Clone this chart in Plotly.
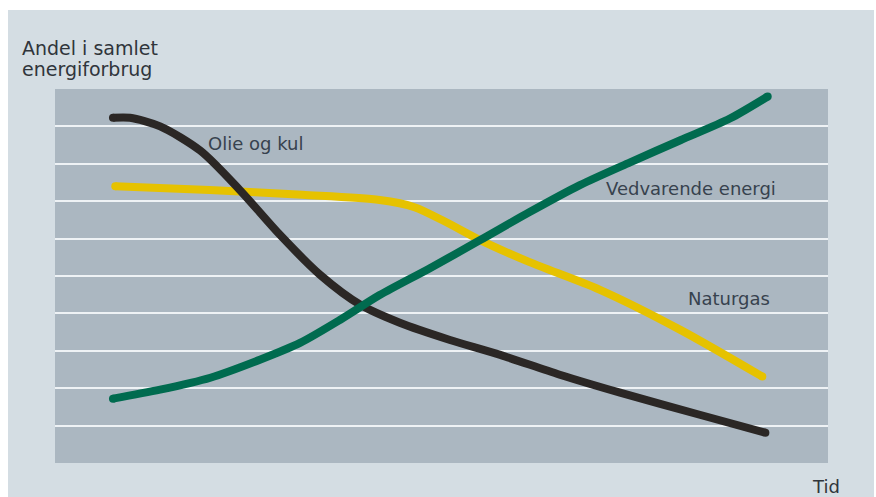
import plotly.graph_objects as go

# Data (time axis 0-100, share axis 0-10 bands)
olie_x = [7.5, 9.7, 13.6, 18.8, 23.9, 29.1, 34.3, 39.5, 44.6, 51.1, 57.6, 65.3, 73.1, 83.4, 91.9]
olie_y = [9.23, 9.23, 9.0, 8.35, 7.3, 6.1, 5.03, 4.23, 3.75, 3.29, 2.89, 2.36, 1.88, 1.29, 0.81]

gas_x = [7.8, 20.0, 32.0, 42.0, 46.5, 50.5, 55.0, 61.4, 70.5, 80.9, 91.5]
gas_y = [7.4, 7.3, 7.17, 7.03, 6.84, 6.45, 5.96, 5.37, 4.63, 3.56, 2.31]

ve_x = [7.5, 13.6, 20.1, 26.5, 31.7, 36.9, 42.0, 48.5, 55.0, 61.4, 67.9, 74.4, 80.9, 87.3, 92.2]
ve_y = [1.72, 1.96, 2.28, 2.76, 3.21, 3.83, 4.49, 5.21, 5.96, 6.71, 7.43, 8.04, 8.63, 9.21, 9.8]

series = [
    ("Naturgas", gas_x, gas_y, "#e6c200"),
    ("Olie og kul", olie_x, olie_y, "#2b2725"),
    ("Vedvarende energi", ve_x, ve_y, "#006b4f"),
]

labels = ["Olie og kul", "Vedvarende energi", "Naturgas"]
y_title = ["Andel i samlet", "energiforbrug"]
x_title = "Tid"

W, H = 876, 497
L, R, T, B = 55, 48, 89, 34
pw, ph = W - L - R, H - T - B

def px(x):
    return (x - L) / pw

def py(y):
    return (H - B - y) / ph

fig = go.Figure()
for name, xs, ys, col in series:
    fig.add_trace(go.Scatter(x=xs, y=ys, mode="lines", name=name,
                             line=dict(color=col, width=8, shape="spline", smoothing=0.8),
                             hoverinfo="skip"))
    fig.add_trace(go.Scatter(x=[xs[0], xs[-1]], y=[ys[0], ys[-1]], mode="markers",
                             marker=dict(color=col, size=8, line=dict(width=0)),
                             hoverinfo="skip"))

font = "DejaVu Sans, Verdana, sans-serif"
label_pos = {"Olie og kul": (206, 143), "Vedvarende energi": (604, 188), "Naturgas": (686, 298)}
ann = []
for lab in labels:
    x0, y0 = label_pos[lab]
    ann.append(dict(text=lab, xref="paper", yref="paper", x=px(x0), y=py(y0),
                    xanchor="left", yanchor="middle", showarrow=False,
                    font=dict(family=font, size=18, color="#37424e")))
for line_text, yy in zip(y_title, [48, 69]):
    ann.append(dict(text=line_text, xref="paper", yref="paper", x=px(20), y=py(yy),
                    xanchor="left", yanchor="middle", showarrow=False,
                    font=dict(family=font, size=19, color="#30353b")))
ann.append(dict(text=x_title, xref="paper", yref="paper", x=px(810), y=py(486),
                xanchor="left", yanchor="middle", showarrow=False,
                font=dict(family=font, size=18, color="#30353b")))

fig.update_layout(
    width=W, height=H,
    margin=dict(l=L, r=R, t=T, b=B, pad=0),
    paper_bgcolor="white",
    plot_bgcolor="#abb7c1",
    showlegend=False,
    annotations=ann,
    shapes=[dict(type="rect", xref="paper", yref="paper",
                 x0=px(8), x1=px(874), y0=py(497), y1=py(10),
                 fillcolor="#d4dde3", line=dict(width=0), layer="below"),
            dict(type="rect", xref="paper", yref="paper",
                 x0=0, x1=1, y0=0, y1=1,
                 fillcolor="#abb7c1", line=dict(width=0), layer="below")],
    xaxis=dict(range=[0, 100], showgrid=False, zeroline=False, showticklabels=False,
               ticks="", showline=False, fixedrange=True),
    yaxis=dict(range=[0, 10], dtick=1, tick0=0, showgrid=True, gridcolor="#eef2f5",
               gridwidth=2, zeroline=False, showticklabels=False, ticks="",
               showline=False, fixedrange=True),
)

fig.write_html("out.html", config={"displayModeBar": False})
